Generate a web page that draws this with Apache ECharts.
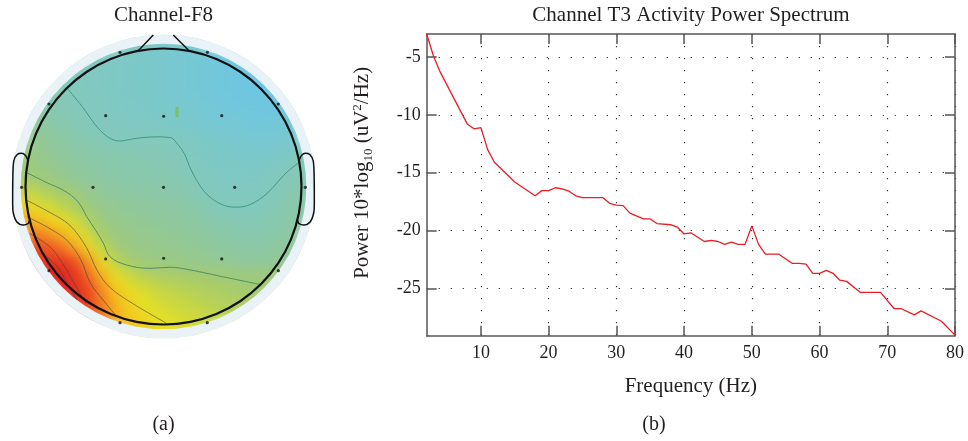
<!DOCTYPE html>
<html><head><meta charset="utf-8">
<script src="https://cdn.jsdelivr.net/npm/echarts@6/dist/echarts.min.js"></script>
<style>
html,body{margin:0;padding:0;background:#fff}
#wrap{position:relative;width:968px;height:441px}
#topo{position:absolute;left:0;top:0;width:968px;height:441px;filter:blur(6px);clip-path:circle(151.8px at 163.5px 186.5px)}
#c{position:absolute;left:0;top:0;width:968px;height:441px}
</style>
</head><body><div id="wrap"><div id="topo"></div><div id="c"></div></div>
<script>
// ---------- Power spectrum (panel b) ----------
const freqHz = [2,3,4,8,9,10,11,12,15,18,19,20,21,22,23,24,25,28,29,30,31,32,34,35,36,38,39,40,41,43,44,45,46,47,48,49,50,51,52,54,56,57,58,59,60,61,62,63,64,66,69,71,72,74,75,78,80];
const powerDb = [-3.0,-4.9,-6.3,-10.8,-11.2,-11.1,-13.0,-14.1,-15.8,-17.0,-16.55,-16.55,-16.3,-16.4,-16.6,-17.0,-17.15,-17.15,-17.65,-17.8,-17.85,-18.5,-19.0,-19.0,-19.4,-19.5,-19.7,-20.3,-20.2,-20.95,-20.85,-20.95,-21.2,-21.0,-21.2,-21.2,-19.6,-21.2,-22.05,-22.05,-22.85,-22.85,-22.9,-23.7,-23.7,-23.45,-23.7,-24.3,-24.4,-25.35,-25.35,-26.75,-26.75,-27.3,-26.95,-27.85,-29.05];
const xTickValues = [10,20,30,40,50,60,70,80];
const yTickValues = [-25,-20,-15,-10,-5];

// ---------- Topographic map (panel a), values read per cell, rows top -> bottom ----------
const _ = null;
const topoRows = [
[_,_,_,_,_,_,_,_,1.8,1.6,1.5,1.3,1.1,1.0,_,_,_,_,_,_,_,_],
[_,_,_,_,_,1.9,1.8,1.7,1.6,1.5,1.35,1.2,1.0,0.85,0.7,0.55,0.4,_,_,_,_,_],
[_,_,_,_,1.95,1.85,1.75,1.65,1.55,1.4,1.3,1.15,1.0,0.85,0.7,0.5,0.35,0.25,_,_,_,_],
[_,_,_,2.1,1.95,1.85,1.75,1.65,1.55,1.45,1.3,1.15,1.0,0.85,0.7,0.5,0.35,0.25,0.2,_,_,_],
[_,_,2.4,2.2,2.0,1.9,1.8,1.7,1.6,1.5,1.35,1.2,1.05,0.9,0.75,0.6,0.45,0.35,0.3,0.3,_,_],
[_,2.7,2.45,2.3,2.1,1.97,1.85,1.75,1.65,1.55,1.45,1.3,1.15,1.0,0.85,0.7,0.6,0.5,0.45,0.45,0.5,_],
[_,3.0,2.75,2.5,2.3,2.1,1.97,1.88,1.8,1.72,1.62,1.5,1.38,1.25,1.1,0.95,0.85,0.75,0.72,0.75,0.85,_],
[_,3.3,3.0,2.75,2.5,2.3,2.12,2.02,2.0,1.98,1.96,1.94,1.75,1.55,1.38,1.22,1.1,1.02,1.0,1.05,1.2,_],
[3.6,3.5,3.2,2.95,2.75,2.55,2.42,2.33,2.27,2.22,2.18,2.12,1.98,1.78,1.6,1.45,1.35,1.3,1.3,1.42,1.7,1.9],
[3.85,3.75,3.45,3.2,2.95,2.75,2.6,2.5,2.43,2.37,2.32,2.25,2.08,1.88,1.7,1.57,1.5,1.52,1.62,1.82,2.03,2.2],
[4.15,4.05,3.8,3.5,3.2,2.98,2.8,2.68,2.6,2.53,2.47,2.4,2.25,2.05,1.85,1.72,1.67,1.72,1.85,2.05,2.25,2.4],
[5.6,5.0,4.5,4.2,3.95,3.5,3.1,2.9,2.8,2.72,2.65,2.58,2.45,2.22,2.0,1.88,1.85,1.88,1.98,2.2,2.4,2.55],
[6.6,6.2,5.6,5.0,4.4,3.8,3.45,3.2,3.05,2.95,2.88,2.8,2.68,2.48,2.12,2.02,1.98,2.0,2.1,2.35,2.55,2.7],
[7.6,7.3,6.9,6.3,5.5,4.5,3.8,3.45,3.28,3.15,3.06,2.98,2.88,2.72,2.5,2.32,2.22,2.22,2.3,2.45,2.65,2.8],
[_,8.3,8.0,7.4,6.6,5.5,4.2,3.7,3.48,3.35,3.25,3.18,3.08,2.95,2.8,2.62,2.5,2.45,2.5,2.65,2.85,_],
[_,9.1,8.9,8.5,7.7,6.6,5.2,4.1,3.7,3.52,3.42,3.35,3.27,3.15,3.0,2.85,2.75,2.7,2.75,2.88,3.05,_],
[_,9.6,9.6,9.5,9.0,7.9,6.4,5.0,4.2,3.85,3.68,3.58,3.5,3.4,3.28,3.15,3.05,3.0,3.05,3.15,3.3,_],
[_,_,9.9,9.9,9.6,8.6,7.4,6.2,5.3,4.7,4.4,4.3,4.2,4.1,4.02,3.95,3.85,3.8,3.8,3.9,_,_],
[_,_,_,9.9,9.7,9.1,8.0,7.0,6.2,5.6,5.2,4.9,4.7,4.55,4.4,4.25,4.1,4.0,3.95,_,_,_],
[_,_,_,_,9.6,9.2,8.3,7.3,6.6,6.0,5.6,5.3,5.1,4.9,4.7,4.55,4.4,4.3,_,_,_,_],
[_,_,_,_,_,9.0,8.4,7.5,6.9,6.4,6.0,5.75,5.5,5.3,5.1,4.9,4.7,_,_,_,_,_],
[_,_,_,_,_,_,_,_,7.2,6.7,6.3,6.0,5.7,5.45,_,_,_,_,_,_,_,_]
];
// electrode positions (head radius = 1)
const electrodeXY = [
 [-0.315,0.972],[0.318,0.972],
 [-0.83,0.598],[-0.419,0.513],[0.001,0.509],[0.422,0.513],[0.832,0.598],
 [-1.028,-0.006],[-0.511,-0.006],[0,-0.006],[0.516,-0.006],[1.028,-0.006],
 [-0.83,-0.61],[-0.419,-0.525],[0.001,-0.52],[0.422,-0.525],[0.832,-0.61],
 [-0.315,-0.987],[0.317,-0.987]
];
const channelMark = [[0.098,0.54]];
const contour1 = [[-0.70,0.715],[-0.59,0.58],[-0.48,0.43],[-0.39,0.35],[-0.32,0.33],[-0.19,0.35],[-0.05,0.36],[0.05,0.355],[0.10,0.31],[0.15,0.24],[0.20,0.12],[0.29,-0.03],[0.40,-0.12],[0.52,-0.15],[0.63,-0.13],[0.75,-0.05],[0.89,0.10],[0.99,0.18]];
const contour2 = [[-0.99,0.10],[-0.85,0.03],[-0.72,-0.03],[-0.62,-0.11],[-0.556,-0.219],[-0.49,-0.32],[-0.436,-0.41],[-0.388,-0.509],[-0.267,-0.569],[-0.098,-0.593],[0.05,-0.585],[0.17,-0.60],[0.41,-0.65],[0.70,-0.71]];
const contour3 = [[-0.99,-0.10],[-0.82,-0.19],[-0.68,-0.28],[-0.56,-0.44],[-0.48,-0.61],[-0.39,-0.73],[-0.22,-0.85],[0.02,-0.99]];
const contour4 = [[-0.99,-0.22],[-0.85,-0.29],[-0.70,-0.39],[-0.60,-0.53],[-0.53,-0.70],[-0.44,-0.82],[-0.34,-0.94]];
const contour5 = [[-0.97,-0.34],[-0.82,-0.44],[-0.73,-0.56],[-0.63,-0.73],[-0.56,-0.85]];
const contour6 = [[-0.89,-0.48],[-0.77,-0.58],[-0.70,-0.70],[-0.63,-0.82]];
// head outline parts
const leftEar = [[-0.985,0.195],[-1.0,0.225],[-1.028,0.241],[-1.06,0.232],[-1.085,0.185],[-1.092,0.05],[-1.093,-0.13],[-1.088,-0.194],[-1.064,-0.255],[-1.016,-0.279],[-0.98,-0.267],[-0.972,-0.245]];
const rightEar = [[0.985,0.195],[1.0,0.225],[1.028,0.241],[1.06,0.232],[1.085,0.185],[1.092,0.05],[1.093,-0.13],[1.088,-0.194],[1.064,-0.255],[1.016,-0.279],[0.98,-0.267],[0.972,-0.245]];
const noseLeft = [[-0.183,0.984],[-0.074,1.098]];
const noseRight = [[0.18,0.989],[0.071,1.098]];

// ---------- layout ----------
const headCX = 163.5, headCY = 186.5, headR = 138, ext = 1.1;
const side = ext * headR;
const nCells = topoRows[0].length;
const heatData = [];
topoRows.forEach((row, r) => {
  if (row.length !== nCells) console.error('row length', r, row.length);
  row.forEach((v, c) => { if (v !== null) heatData.push([c, topoRows.length - 1 - r, v]); });
});
const catIdx = Array.from({length: nCells}, (_, i) => String(i));
const serif = 'Liberation Serif';
const txt = '#231f20';
const axisCol = '#555';
const halo = '#e9f2f7';

function ring(r0, r1, color, z) {
  return { type: 'pie', center: [headCX, headCY], radius: [r0, r1], silent: true, z: z,
    label: {show: false}, labelLine: {show: false}, emphasis: {disabled: true},
    itemStyle: {color: color, borderWidth: 0}, data: [{value: 1}], animation: false };
}
function headLine(data, color, width, z, smooth) {
  return { type: 'line', xAxisIndex: 0, yAxisIndex: 0, data: data, symbol: 'none', silent: true,
    smooth: smooth, z: z, lineStyle: {color: color, width: width}, emphasis: {disabled: true} };
}

// field layer (smoothed by a CSS blur, clipped to the head disk)
const topoOption = {
  animation: false,
  visualMap: {type: 'continuous', show: false, min: 0, max: 10, seriesIndex: 1,
    inRange: {color: ['#6ac5e8','#76c8d2','#82c8bc','#90c89c','#a2ca74','#c2d548','#e6e022','#f6c41e','#f48a22','#ea4a20','#e02020']}},
  grid: {left: headCX - side, top: headCY - side, width: 2 * side, height: 2 * side},
  xAxis: {type: 'category', data: catIdx, show: false},
  yAxis: {type: 'category', data: catIdx, show: false},
  series: [
    ring(0, side, halo, 1),
    {type: 'heatmap', data: heatData, silent: true, z: 2, itemStyle: {borderWidth: 0}, emphasis: {disabled: true}}
  ]
};
echarts.init(document.getElementById('topo')).setOption(topoOption);

const option = {
  animation: false,
  title: [
    {text: 'Channel-F8', left: headCX, top: 5, textAlign: 'center', padding: 0,
     textStyle: {fontFamily: serif, fontSize: 21, fontWeight: 'normal', color: txt}},
    {text: 'Channel T3 Activity Power Spectrum', left: 691, top: 5, textAlign: 'center', padding: 0,
     textStyle: {fontFamily: serif, fontSize: 21, fontWeight: 'normal', color: txt}},
    {text: '(a)', left: headCX, top: 415, textAlign: 'center', padding: 0,
     textStyle: {fontFamily: serif, fontSize: 20, fontWeight: 'normal', color: txt}},
    {text: '(b)', left: 654, top: 415, textAlign: 'center', padding: 0,
     textStyle: {fontFamily: serif, fontSize: 20, fontWeight: 'normal', color: txt}}
  ],
  grid: [
    {left: headCX - side, top: headCY - side, width: 2 * side, height: 2 * side},
    {left: 426.7, top: 34, right: 13, bottom: 105.3}
  ],
  xAxis: [
    {type: 'value', gridIndex: 0, min: -ext, max: ext, show: false},
    {type: 'value', gridIndex: 1, min: 2, max: 80, position: 'bottom',
     axisLine: {lineStyle: {color: axisCol, width: 1.5}},
     axisTick: {inside: true, length: 10, customValues: xTickValues, lineStyle: {color: axisCol, width: 1.5}},
     axisLabel: {customValues: xTickValues, margin: 9, fontFamily: serif, fontSize: 18, color: txt},
     splitLine: {show: true, lineStyle: {color: '#333', width: 1.2, type: [1.2, 10.8]}},
     name: 'Frequency (Hz)', nameLocation: 'middle', nameGap: 40,
     nameTextStyle: {fontFamily: serif, fontSize: 21, color: txt}},
    {type: 'value', gridIndex: 1, min: 2, max: 80, position: 'top',
     axisLine: {lineStyle: {color: axisCol, width: 1.5}},
     axisTick: {inside: true, length: 10, customValues: xTickValues, lineStyle: {color: axisCol, width: 1.5}},
     axisLabel: {show: false}, splitLine: {show: false}}
  ],
  yAxis: [
    {type: 'value', gridIndex: 0, min: -ext, max: ext, show: false},
    {type: 'value', gridIndex: 1, min: -29.1, max: -3, position: 'left',
     axisLine: {show: true, lineStyle: {color: axisCol, width: 1.5}},
     axisTick: {show: true, inside: true, length: 10, customValues: yTickValues, lineStyle: {color: axisCol, width: 1.5}},
     axisLabel: {customValues: yTickValues, margin: 6, fontFamily: serif, fontSize: 18, color: txt},
     splitLine: {show: true, lineStyle: {color: '#333', width: 1.2, type: [1.2, 10.8]}},
     name: 'Power 10*log{sub|10} (uV{sup|2}/Hz)', nameLocation: 'middle', nameGap: 52, nameRotate: 90,
     nameTextStyle: {fontFamily: serif, fontSize: 21, color: txt, lineHeight: 24, padding: [0, 0, 0, 24],
       rich: {sub: {fontFamily: serif, fontSize: 13, color: txt, verticalAlign: 'bottom', lineHeight: 24},
              sup: {fontFamily: serif, fontSize: 13, color: txt, verticalAlign: 'top', lineHeight: 24}}}},
    {type: 'value', gridIndex: 1, min: -29.1, max: -3, position: 'right',
     axisLine: {show: true, lineStyle: {color: axisCol, width: 1.5}},
     axisTick: {show: true, inside: true, length: 10, customValues: yTickValues, lineStyle: {color: axisCol, width: 1.5}},
     axisLabel: {show: false}, splitLine: {show: false}}
  ],
  series: [
    ring(headR * 1.035, side, halo, 3),
    headLine(contour1, '#3f9a82', 1, 4, 0.35),
    headLine(contour2, '#4d8f6a', 1, 4, 0.35),
    headLine(contour3, 'rgba(70,70,60,0.6)', 1, 4, 0.35),
    headLine(contour4, 'rgba(70,70,60,0.6)', 1, 4, 0.35),
    headLine(contour5, 'rgba(70,70,60,0.6)', 1, 4, 0.35),
    headLine(contour6, 'rgba(70,70,60,0.6)', 1, 4, 0.35),
    ring(headR - 1.1, headR + 1.1, '#111111', 5),
    headLine(leftEar, '#111', 1.5, 6, 0.3),
    headLine(rightEar, '#111', 1.5, 6, 0.3),
    headLine(noseLeft, '#111', 1.5, 6, false),
    headLine(noseRight, '#111', 1.5, 6, false),
    {type: 'scatter', xAxisIndex: 0, yAxisIndex: 0, data: electrodeXY, symbol: 'circle', symbolSize: 3.2,
     silent: true, z: 7, itemStyle: {color: '#111'}, emphasis: {disabled: true}},
    {type: 'scatter', xAxisIndex: 0, yAxisIndex: 0, data: channelMark, symbol: 'rect', symbolSize: [3, 10],
     silent: true, z: 7, itemStyle: {color: '#7cc142'}, emphasis: {disabled: true}},
    {type: 'line', xAxisIndex: 1, yAxisIndex: 1, data: freqHz.map((f, i) => [f, powerDb[i]]),
     symbol: 'none', silent: true, z: 3, lineStyle: {color: '#ec1c24', width: 1.3}, emphasis: {disabled: true}}
  ]
};
echarts.init(document.getElementById('c')).setOption(option);
</script>
</body></html>
